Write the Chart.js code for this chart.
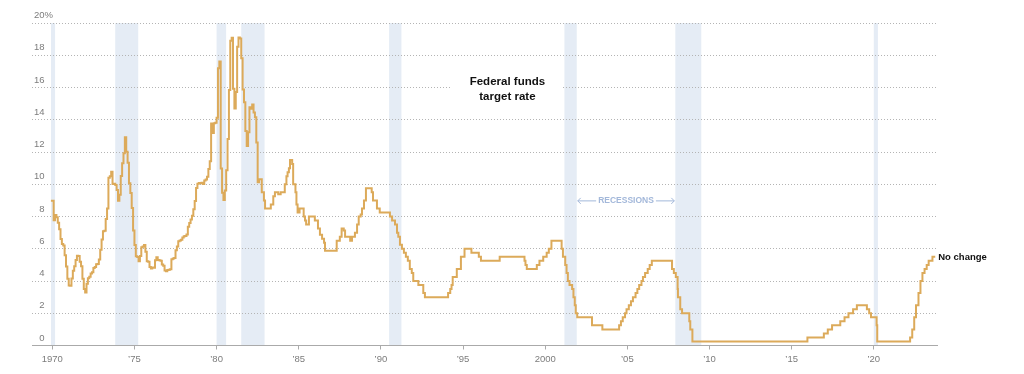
<!DOCTYPE html>
<html>
<head>
<meta charset="utf-8">
<script src="https://cdn.jsdelivr.net/npm/chart.js@4.4.0/dist/chart.umd.min.js"></script>
<style>
  html, body { margin: 0; padding: 0; background: #fff; }
</style>
</head>
<body>
<canvas id="grafico" width="1024" height="374"></canvas>
<script>
// Monthly rate, 1970 to Sep 1982 (one row per year)
const monthlyYears = [1970, 1971, 1972, 1973, 1974, 1975, 1976, 1977, 1978, 1979, 1980, 1981, 1982];
const monthlyRates = [
  [8.98, 8.98, 7.76, 8.10, 7.95, 7.61, 7.21, 6.61, 6.29, 6.20, 5.60, 4.90],
  [4.14, 3.72, 3.71, 4.15, 4.63, 4.91, 5.31, 5.57, 5.55, 5.20, 4.91, 4.14],
  [3.50, 3.29, 3.83, 4.17, 4.27, 4.46, 4.55, 4.80, 4.87, 5.04, 5.06, 5.33],
  [5.94, 6.58, 7.09, 7.12, 7.84, 8.49, 10.40, 10.50, 10.78, 10.01, 10.03, 9.95],
  [9.65, 8.97, 9.35, 10.51, 11.31, 11.93, 12.92, 12.01, 11.34, 10.06, 9.45, 8.53],
  [7.13, 6.24, 5.54, 5.49, 5.22, 5.55, 6.10, 6.14, 6.24, 5.82, 5.22, 5.20],
  [4.87, 4.77, 4.84, 4.82, 5.29, 5.48, 5.31, 5.29, 5.25, 5.02, 4.95, 4.65],
  [4.61, 4.68, 4.69, 4.73, 5.35, 5.39, 5.42, 5.90, 6.14, 6.47, 6.51, 6.56],
  [6.70, 6.78, 6.79, 6.89, 7.36, 7.60, 7.81, 8.04, 8.45, 8.96, 9.76, 10.03],
  [10.07, 10.06, 10.09, 10.01, 10.24, 10.29, 10.47, 10.94, 11.43, 13.77, 13.18, 13.78],
  [13.82, 14.13, 17.19, 17.61, 10.98, 9.47, 9.03, 9.61, 10.87, 12.81, 15.85, 18.90],
  [19.08, 15.93, 14.70, 15.72, 18.52, 19.10, 19.04, 17.82, 15.87, 15.08, 13.31, 12.37],
  [13.22, 14.78, 14.68, 14.94, 14.45, 14.15, 12.59, 10.12, 10.31]
];

// Target rate changes from late 1982 (decimal year, new level)
const targetYears = [
  1982.75, 1982.88, 1982.95, 1983.30, 1983.45, 1983.55, 1983.75, 1983.90,
  1984.15, 1984.25, 1984.32, 1984.40, 1984.47, 1984.60, 1984.66, 1984.80, 1984.86, 1984.93,
  1985.05, 1985.30, 1985.38, 1985.45, 1985.62, 1985.98,
  1986.17, 1986.29, 1986.42, 1986.54, 1986.60,
  1987.31, 1987.50, 1987.61, 1987.74, 1987.82, 1987.94,
  1988.13, 1988.24, 1988.42, 1988.55, 1988.65, 1988.77, 1988.85, 1988.97,
  1989.09, 1989.44, 1989.52, 1989.60, 1989.76, 1989.93,
  1990.55, 1990.68, 1990.86, 1990.98,
  1991.06, 1991.16, 1991.28, 1991.40, 1991.52, 1991.64, 1991.76, 1991.88, 1991.97,
  1992.28, 1992.58, 1992.68,
  1994.09, 1994.22, 1994.30, 1994.37, 1994.62, 1994.87,
  1995.09, 1995.51, 1995.96, 1996.09, 1997.23,
  1998.74, 1998.80, 1998.88, 1999.49, 1999.65, 1999.88,
  2000.09, 2000.22, 2000.38,
  2001.00, 2001.08, 2001.22, 2001.30, 2001.38, 2001.48, 2001.64, 2001.72, 2001.80, 2001.86, 2001.95,
  2002.85, 2003.48,
  2004.50, 2004.61, 2004.72, 2004.86, 2004.95,
  2005.09, 2005.22, 2005.34, 2005.50, 2005.61, 2005.72, 2005.86, 2005.95,
  2006.08, 2006.24, 2006.36, 2006.49,
  2007.72, 2007.83, 2007.95,
  2008.06, 2008.08, 2008.22, 2008.33, 2008.77, 2008.83, 2008.96,
  2015.96, 2016.96, 2017.20, 2017.46, 2017.96,
  2018.22, 2018.46, 2018.74, 2018.97,
  2019.58, 2019.72, 2019.83, 2020.17, 2020.21,
  2022.21, 2022.34, 2022.46, 2022.57, 2022.72, 2022.84, 2022.96,
  2023.09, 2023.22, 2023.34, 2023.57, 2023.74
];
const targetRates = [
  9.5, 9.0, 8.5, 8.75, 9.25, 9.5, 9.375, 9.5,
  10.0, 10.5, 10.75, 11.0, 11.5, 11.25, 10.0, 9.5, 8.75, 8.25,
  8.5, 8.0, 7.75, 7.5, 8.0, 7.75,
  7.25, 6.875, 6.625, 6.375, 5.875,
  6.5, 6.75, 7.25, 7.125, 6.75, 6.75,
  6.5, 6.75, 7.0, 7.5, 8.0, 8.125, 8.5, 9.0,
  9.75, 9.5, 9.0, 9.0, 8.5, 8.25,
  8.0, 7.75, 7.5, 7.0,
  6.75, 6.25, 6.0, 5.75, 5.5, 5.25, 4.75, 4.5, 4.0,
  3.75, 3.25, 3.0,
  3.25, 3.5, 3.75, 4.25, 4.75, 5.5,
  6.0, 5.75, 5.5, 5.25, 5.5,
  5.25, 5.0, 4.75, 5.0, 5.25, 5.5,
  5.75, 6.0, 6.5,
  6.0, 5.5, 5.0, 4.5, 4.0, 3.75, 3.5, 3.0, 2.5, 2.0, 1.75,
  1.25, 1.0,
  1.25, 1.5, 1.75, 2.0, 2.25,
  2.5, 2.75, 3.0, 3.25, 3.5, 3.75, 4.0, 4.25,
  4.5, 4.75, 5.0, 5.25,
  4.75, 4.5, 4.25,
  3.5, 3.0, 2.25, 2.0, 1.5, 1.0, 0.25,
  0.5, 0.75, 1.0, 1.25, 1.5,
  1.75, 2.0, 2.25, 2.5,
  2.25, 2.0, 1.75, 1.25, 0.25,
  0.5, 1.0, 1.75, 2.5, 3.25, 4.0, 4.5,
  4.75, 5.0, 5.25, 5.5, 5.5
];

// Recessions (decimal years)
const recessionStarts = [1969.92, 1973.83, 1980.00, 1981.50, 1990.50, 2001.17, 2007.92, 2020.00];
const recessionEnds   = [1970.17, 1975.23, 1980.58, 1982.92, 1991.25, 2001.92, 2009.50, 2020.25];

const yTicks = [0, 2, 4, 6, 8, 10, 12, 14, 16, 18, 20];
const xTicks = [1970, 1975, 1980, 1985, 1990, 1995, 2000, 2005, 2010, 2015, 2020];
const xTickLabels = ['1970', '\u201975', '\u201980', '\u201985', '\u201990', '\u201995', '2000', '\u201905', '\u201910', '\u201915', '\u201920'];

// Build the points: in the reference each monthly level starts one month early
const puntos = [];
monthlyYears.forEach((anio, i) => {
  monthlyRates[i].forEach((valor, m) => {
    puntos.push({ x: anio + (m - 1) / 12, y: valor });
  });
});
targetYears.forEach((anio, i) => puntos.push({ x: anio, y: targetRates[i] }));

const grisTexto = '#7c7c7c';
const fuente = "'Liberation Sans', Arial, sans-serif";

const extras = {
  id: 'extras',
  beforeDraw(chart) {
    // recession bands behind everything
    const { ctx, scales: { x, y } } = chart;
    ctx.save();
    ctx.fillStyle = '#e5ecf5';
    const yTop = y.getPixelForValue(20);
    const yBot = y.getPixelForValue(0);
    recessionStarts.forEach((ini, i) => {
      const x0 = x.getPixelForValue(ini);
      const x1 = x.getPixelForValue(recessionEnds[i]);
      ctx.fillRect(x0, yTop, x1 - x0, yBot - yTop);
    });
    ctx.restore();
  },
  beforeDatasetsDraw(chart) {
    const { ctx, scales: { x, y } } = chart;
    ctx.save();

    // y labels sit above their grid line
    ctx.font = '9.5px ' + fuente;
    ctx.fillStyle = grisTexto;
    ctx.textBaseline = 'middle';
    const xLabel = 44.5;
    yTicks.forEach(v => {
      const py = y.getPixelForValue(v) - 7.5;
      ctx.textAlign = 'right';
      ctx.fillText(String(v), xLabel, py);
      if (v === 20) {
        ctx.textAlign = 'left';
        ctx.fillText('%', xLabel, py);
      }
    });

    // series title with white box over the grid
    const cx = x.getPixelForValue(1997.7);
    const y1 = y.getPixelForValue(16.35);
    const y2 = y.getPixelForValue(15.45);
    ctx.fillStyle = '#fff';
    ctx.fillRect(cx - 56, y1 - 12, 110, 35);
    ctx.fillStyle = '#111';
    ctx.textAlign = 'center';
    ctx.font = 'bold 11.5px ' + fuente;
    ctx.fillText('Federal funds', cx, y1);
    ctx.fillText('target rate', cx, y2);

    // RECESSIONS label with arrows between two bands
    const ry = y.getPixelForValue(9.0);
    const xa = x.getPixelForValue(recessionEnds[5]) + 1;
    const xb = x.getPixelForValue(recessionStarts[6]) - 1;
    const mid = (xa + xb) / 2;
    ctx.font = 'bold 8.5px ' + fuente;
    ctx.fillStyle = '#a3b8da';
    ctx.fillText('RECESSIONS', mid, ry);
    const w = ctx.measureText('RECESSIONS').width;
    ctx.strokeStyle = '#a3b8da';
    ctx.lineWidth = 1;
    ctx.beginPath();
    ctx.moveTo(xa, ry + 0.5); ctx.lineTo(mid - w / 2 - 2, ry + 0.5);
    ctx.moveTo(xa + 3, ry - 2.5); ctx.lineTo(xa, ry + 0.5); ctx.lineTo(xa + 3, ry + 3.5);
    ctx.moveTo(mid + w / 2 + 2, ry + 0.5); ctx.lineTo(xb, ry + 0.5);
    ctx.moveTo(xb - 3, ry - 2.5); ctx.lineTo(xb, ry + 0.5); ctx.lineTo(xb - 3, ry + 3.5);
    ctx.stroke();

    ctx.restore();
  },
  afterDatasetsDraw(chart) {
    const { ctx, scales: { x, y } } = chart;
    const n = targetYears.length - 1;
    ctx.save();
    ctx.font = 'bold 9.5px ' + fuente;
    ctx.fillStyle = '#111';
    ctx.textAlign = 'left';
    ctx.textBaseline = 'middle';
    ctx.fillText('No change', x.getPixelForValue(targetYears[n]) + 3, y.getPixelForValue(targetRates[n]) + 1);
    ctx.restore();
  }
};

const grafico = new Chart(document.getElementById('grafico').getContext('2d'), {
  type: 'line',
  data: {
    datasets: [{
      data: puntos,
      borderColor: '#dcaa5a',
      borderWidth: 2,
      pointRadius: 0,
      stepped: true,
      fill: false
    }]
  },
  options: {
    responsive: false,
    animation: false,
    devicePixelRatio: 1,
    layout: { padding: { left: 32, right: 87, top: 23, bottom: 0 } },
    plugins: { legend: { display: false }, tooltip: { enabled: false } },
    scales: {
      x: {
        type: 'linear',
        min: 1968.765,
        max: 2023.847,
        afterBuildTicks: s => { s.ticks = xTicks.map(v => ({ value: v })); },
        afterFit: s => { s.height = 28.5; },
        ticks: {
          autoSkip: false,
          maxRotation: 0,
          padding: 4,
          color: grisTexto,
          font: { family: fuente, size: 9.5 },
          callback: (v, i) => xTickLabels[i]
        },
        grid: { drawOnChartArea: false, drawTicks: true, tickLength: 4, color: '#aaa' },
        border: { display: true, color: '#aaa' }
      },
      y: {
        min: 0,
        max: 20,
        afterBuildTicks: s => { s.ticks = yTicks.map(v => ({ value: v })); },
        afterFit: s => { s.width = 0; },
        ticks: { display: false },
        grid: {
          drawTicks: false,
          color: c => (c.tick && c.tick.value === 0) ? 'rgba(0,0,0,0)' : '#b4b4b4'
        },
        border: { display: false, dash: [1, 2] }
      }
    }
  },
  plugins: [extras]
});
</script>
</body>
</html>
